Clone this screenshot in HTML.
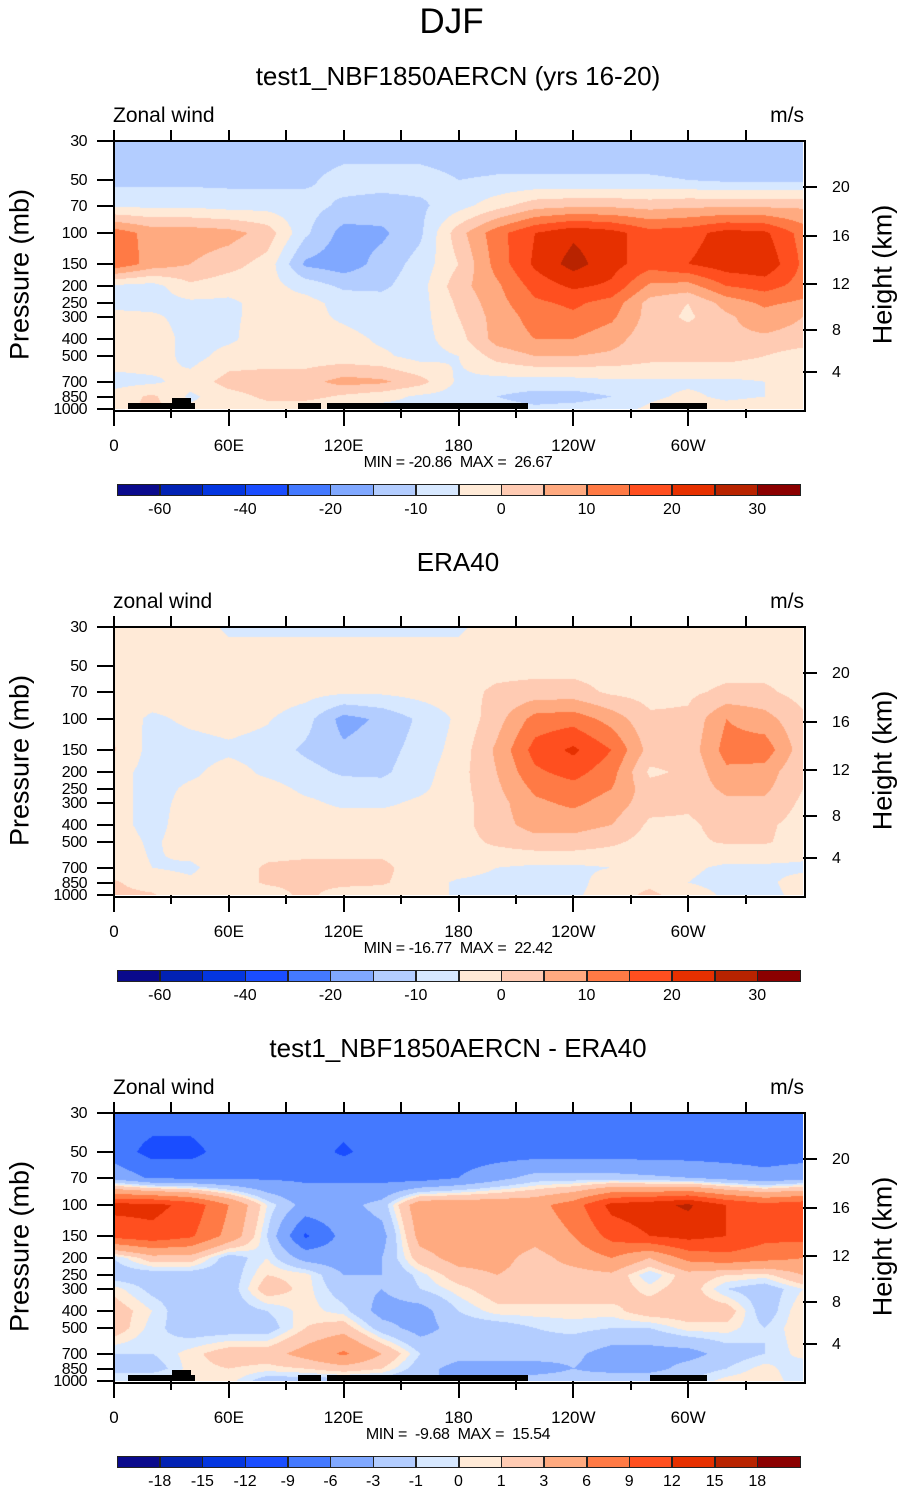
<!DOCTYPE html>
<html><head><meta charset="utf-8">
<style>
body{margin:0;background:#fff;width:903px;height:1492px;position:relative;overflow:hidden;font-family:"Liberation Sans",sans-serif;color:#000}
.t{position:absolute;white-space:nowrap;line-height:1}
canvas{position:absolute}
.blk{position:absolute;background:#000}
</style></head><body>
<div class="t" style="left:0;width:903px;text-align:center;top:4px;font-size:35px">DJF</div>
<div id="root"></div>
<script>
const pLevels=[30,50,70,100,150,200,250,300,400,500,700,850,1000];
const lons=[0,20,40,60,80,100,120,140,160,180,200,220,240,260,280,300,320,340,360];
const colors=["#0a0a8c","#0222b4","#0436e0","#1a4dff","#4479ff","#80a8ff","#b3cdff","#d7e8ff","#ffead7","#ffcbb3","#ffaa80","#ff7a45","#ff4f1f","#e63000","#b82300","#8b0000"];
const levelsAbs=[-60,-50,-40,-30,-20,-15,-10,-5,0,5,10,15,20,25,30];
const levelsDiff=[-18,-15,-12,-9,-6,-3,-1,0,1,3,6,9,12,15,18];
const labelsAbs=["","-60","","-40","","-20","","-10","","0","","10","","20","","30"];
const labelsDiff=["","-18","-15","-12","-9","-6","-3","-1","0","1","3","6","9","12","15","18"];
const xTickLabels=["0","60E","120E","180","120W","60W"];
const heightTicks=[20,16,12,8,4];
const heightOffsets=[46,95,143,189,231];
// panel 1 (test1) rows: pressure levels; cols: lons
const model=[
[-13,-13,-13,-13,-13,-13,-13,-13,-13,-13,-13,-13,-13,-13,-13,-13,-13,-13,-13],
[-11.5,-11.5,-11.5,-11.5,-11.5,-11,-8,-8,-8,-10,-9.5,-9.5,-9.5,-9.5,-9.5,-10,-11,-11,-11],
[-6,-6,-6,-7,-7,-8,-11,-12,-11,-7,-2,3,4,4,3,4,4,4,4],
[13,8,8,7,3,-9,-17,-16,-11,3,13,20,24,22,17,18,22,21,13],
[14,8,5,2,-2,-16,-18,-13,-8,0,12,21,27,22,17,20,23,24,14],
[-6,-7,-1,-3,-3,-7,-11,-11,-7,3,9,17,21,19,9,8,15,17,13],
[-7,-7,-6,-6,-3,-3,-7,-8,-7,1,8,14,16,13,3,0,7,11,9],
[-3,-4,-7,-6,-3,-3,-6,-8,-7,0,7,12,14,11,3,-1,4,8,5],
[-2,-2,-7,-6,-2,-3,-3,-6,-7,-2,7,10,10,7,2,3,4,4,3],
[-2,-2,-7,-3,-3,-3,-3,-4,-7,-5,2,5,5,4,2,2,2,0,-3],
[-7,-6,-3,2,3,3,7,6,2,-6,-7,-7,-7,-6,-6,-6,-6,-5,-4],
[-3,1,-6,-2,1,2,-1,-3,-6,-7,-10,-12,-12,-10,-6,-4,-6,-5,-3],
[-3,2,-4,-3,-2,-4,-6,-7,-7,-8,-8,-9,-8,-7,-4,-2,-3,-2,-1]];
// panel 2 (ERA40)
const obs=[
[-2,-2,-2,-6,-6,-6,-6,-6,-6,-6,-2,-2,-2,-2,-2,-2,-2,-2,-2],
[-2,-2,-2,-2,-2,-2,-2,-2,-2,-2,-2,-2,-2,-2,-2,-2,-2,-2,-2],
[-2,-2,-2,-2,-2,-3,-4,-4,-3,-2,1,2,2,-1,-2,-1,1,1,-2],
[-2,-6,-4,-3,-4.5,-8,-17,-14,-9,-4,3,12,13,8,1,1,10,7,1],
[0.5,-7,-7,-6,-7,-11,-14,-12,-8,-3,6,17,21,15,3,2,12,13,2],
[-3,-7,-6,-3,-6,-8,-11,-11,-7,-2,5,14,17,12,-1,1,9,8,0],
[-3,-7,-4,-4,-3,-6,-7,-8,-6,-2,4,11,13,10,2,2,6,6,0],
[-3,-7,-3,-3,-2,-4,-6,-6,-4,-2,3,9,11,8,2,1,4,4,-1],
[-3,-7,-2,-2,-2,-2,-2,-2,-2,-2,3,7,7,5,-1,-1,2,1,-2],
[-2,-6,-2,-2,-2,-2,-2,-2,-2,-2,1,3,3,1,-2,-1,0.5,0.5,-2],
[-2,-5,-6,-2,0.5,1,1,1,-2,-2,-5,-6,-6,-5,-2,-4,-6,-6,-6],
[0.5,-2,-4,-2,0.5,1,1,0.5,-2,-6,-7,-6,-7,-2,-1,-5,-7,-6,-3],
[1,0.5,-4,-2,-2,1,-2,-2,-2,-6,-7,-7,-6,-2,1,-2,-6,-7,-3]];
// panel 3 (difference)
const diff=[
[-7.5,-7.5,-7.5,-7.5,-7.5,-7.5,-7.5,-7.5,-7.5,-7.5,-7.5,-7.5,-7.5,-7.5,-7.5,-7.5,-7.5,-7.5,-7.5],
[-7.5,-10,-10,-7.5,-7.5,-7.5,-9.5,-7.5,-7.5,-7.5,-7.5,-7.5,-7.5,-7.5,-7.5,-7.5,-7.5,-7.5,-7.5],
[-4,-6.5,-6.5,-6.5,-6.5,-6.5,-6.5,-7,-7.5,-6,-4,-2,-2,-2,-2.5,-3,-4,-5,-4],
[13,13,11,6,0,-4,-4,-2,5,5,5,5,7.5,13,14,15.5,12,10,11],
[10,11,9.5,5,-1,-9.5,-5,-4,4,4.5,5,4,6,10,12,13,12,10,10],
[-1,2,2,-2,0,-4,-4.5,-3,2,4,4,2,4,6,3,7,8,7,6],
[-2,-2,-2,-2,1,0.5,-3,-3,-0.5,2,3,2,2,2.5,-1,2,1,0.5,3],
[0.5,-1.5,-2,-2,2,0.5,-2,-3,-1,0.5,2,2,2,2,0.5,2,-1,-2,0],
[2,0,-2.5,-2,-1,0.5,-0.5,-4,-4,-1,0.5,0.5,0.5,0.5,2,2,2,-2,1],
[2,-0.5,-2,-2,-2,1,2,-2,-4,-2,-2,-1,-0.5,-1,-1,0.5,0.5,-1,1],
[-1,-1,0.5,2,2,4,6.5,3,-1,-2,-2,-2,-2.5,-4,-4,-4,-2,-1,0.5],
[-1,-2,0.5,1,0.5,1,2,1,-2,-4,-4,-4,-3,-4,-4,-2,-1,0.5,-1],
[-1,1,0.5,0.5,-2,-2,-2,-2,-3,-3,-3,-2,-2,-1,-1,-1,0.5,1,-1]];
const panelTitles=["test1_NBF1850AERCN (yrs 16-20)","ERA40","test1_NBF1850AERCN - ERA40"];
const leftTitles=["Zonal wind","zonal wind","Zonal wind"];
const minmax=["MIN = -20.86  MAX =  26.67","MIN = -16.77  MAX =  22.42","MIN =  -9.68  MAX =  15.54"];

const root=document.getElementById('root');
const L=114,W=689,H=268;
const lnR=Math.log(1000/30);
function yOf(p){return H*Math.log(p/30)/lnR;}
function xOf(lon){return W*lon/360;}
function classOf(v,lv){let c=0;for(const l of lv){if(v>=l)c++;}return c;}
function add(tag,name,style,text){const e=document.createElement(tag);


e.style.cssText=style;if(text!==undefined)e.textContent=text;root.appendChild(e);return e;}
function hexRGB(h){return [parseInt(h.substr(1,2),16),parseInt(h.substr(3,2),16),parseInt(h.substr(5,2),16)];}
const rgb=colors.map(hexRGB);
const lp=pLevels.map(p=>Math.log(p));

function drawPanel(i,data,lv,labels){
  const off=i*486, T=141+off;
  add('div','panel-title','left:0;width:916px;text-align:center;top:'+(63+off)+'px;font-size:26px',panelTitles[i]).className='t';
  add('div','variable-label','left:113px;top:'+(105+off)+'px;font-size:21px',leftTitles[i]).className='t';
  add('div','units-label','left:740px;width:64px;text-align:right;top:'+(105+off)+'px;font-size:21px','m/s').className='t';
  const cv=add('canvas','contour-plot','left:'+L+'px;top:'+T+'px;');
  cv.width=W;cv.height=H;
  const ctx=cv.getContext('2d');const img=ctx.createImageData(W,H);
  for(let y=0;y<H;y++){
    const lnp=Math.log(30)+ (y+0.5)/H*lnR;
    let r=0;while(r<pLevels.length-2&&lnp>lp[r+1])r++;
    let fy=(lnp-lp[r])/(lp[r+1]-lp[r]);fy=Math.max(0,Math.min(1,fy));
    for(let x=0;x<W;x++){
      const lon=(x+0.5)/W*360;let c=Math.min(lons.length-2,Math.floor(lon/20));
      const fx=(lon-lons[c])/20;
      const v=(data[r][c]*(1-fx)+data[r][c+1]*fx)*(1-fy)+(data[r+1][c]*(1-fx)+data[r+1][c+1]*fx)*fy;
      const col=rgb[classOf(v,lv)];const k=(y*W+x)*4;
      img.data[k]=col[0];img.data[k+1]=col[1];img.data[k+2]=col[2];img.data[k+3]=255;}
  }
  ctx.putImageData(img,0,0);
  if(i!==1){
    const topo=[[128,403,67,6],[172,398,19,11],[298,403,23,6],[327,403,201,6],[650,403,57,6]];
    topo.forEach(b=>{add('div','topography','left:'+b[0]+'px;top:'+(b[1]+off)+'px;width:'+b[2]+'px;height:'+b[3]+'px').className='blk';});
  }
  add('div','plot-frame','position:absolute;left:'+(L-1)+'px;top:'+(T-1)+'px;width:'+W+'px;height:'+H+'px;border:2px solid #000');
  for(let k=0;k<=11;k++){
    const x=L+xOf(k*30);
    add('div','x-tick-top','left:'+(x-1)+'px;top:'+(T-11)+'px;width:2px;height:11px').className='blk';
    add('div','x-tick-bottom','left:'+(x-1)+'px;top:'+(T+H)+'px;width:2px;height:'+(k%2?9:17)+'px').className='blk';
  }
  xTickLabels.forEach((s,k)=>{const x=L+xOf(k*60);
    add('div','x-tick-label','left:'+(x-30)+'px;width:60px;text-align:center;top:'+(T+296)+'px;font-size:17px',s).className='t';});
  add('div','min-max-label','left:308px;width:300px;text-align:center;top:'+(T+314)+'px;font-size:16px;letter-spacing:-0.4px',minmax[i].replace(/  /g,'\u00a0\u00a0')).className='t';
  pLevels.forEach(p=>{const y=T+yOf(p);
    add('div','y-tick','left:97px;top:'+(y-1)+'px;width:17px;height:2px').className='blk';
    add('div','y-tick-label','left:30px;width:57px;text-align:right;top:'+(y-7)+'px;font-size:16px;letter-spacing:-0.5px',String(p)).className='t';});
  heightTicks.forEach((h,k)=>{const y=T+heightOffsets[k];
    add('div','height-tick','left:803px;top:'+(y-1)+'px;width:14px;height:2px').className='blk';
    add('div','height-tick-label','left:832px;top:'+(y-7)+'px;font-size:16px',String(h)).className='t';});
  add('div','y-axis-title','left:-70px;width:180px;text-align:center;top:'+(T+120)+'px;font-size:27px;transform:rotate(-90deg)','Pressure (mb)').className='t';
  add('div','right-axis-title','left:798px;width:170px;text-align:center;top:'+(T+120)+'px;font-size:27px;transform:rotate(-90deg)','Height (km)').className='t';
  const cy=484+off, bw=(800-117)/16;
  colors.forEach((c,k)=>{
    add('div','colorbar-box','position:absolute;left:'+(117+k*bw)+'px;top:'+cy+'px;width:'+(bw+0.5)+'px;height:12px;background:'+c+';box-sizing:border-box;border:1px solid #222');});
  labels.forEach((s,k)=>{if(!s)return;
    add('div','colorbar-label','left:'+(117+k*bw-25)+'px;width:50px;text-align:center;top:'+(cy+18)+'px;font-size:16px',s).className='t';});
}
drawPanel(0,model,levelsAbs,labelsAbs);
drawPanel(1,obs,levelsAbs,labelsAbs);
drawPanel(2,diff,levelsDiff,labelsDiff);
</script>
</body></html>
